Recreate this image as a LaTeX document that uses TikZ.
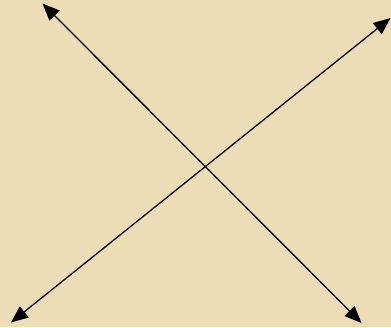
\documentclass[tikz,border=0pt]{standalone}
\usetikzlibrary{arrows.meta}
\definecolor{parch}{HTML}{EDDDB7}
\tikzset{dblarrow/.style={line width=1.3pt,{Triangle[length=17pt,width=14pt]}-{Triangle[length=17pt,width=14pt]}}}
\begin{document}
\begin{tikzpicture}[x=1pt,y=-1pt]
\fill[parch] (0,0) rectangle (391,327);
\useasboundingbox (0,0) rectangle (391,327);
\coordinate (tl) at (42.5,3.5);
\coordinate (br) at (361.5,323);
\coordinate (tr) at (390.5,18);
\coordinate (bl) at (11,322.5);
\draw[dblarrow] (tl) -- (br);
\draw[dblarrow] (bl) -- (tr);
\end{tikzpicture}
\end{document}
